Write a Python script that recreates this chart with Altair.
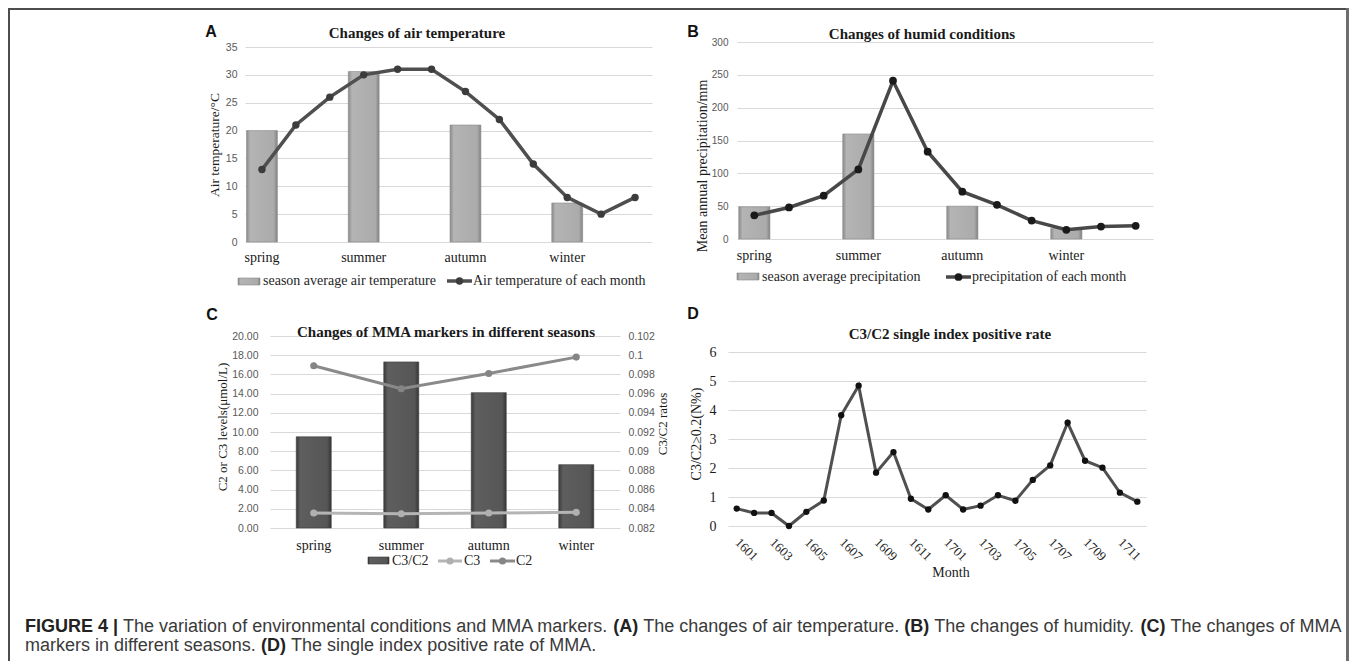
import altair as alt
import pandas as pd

# ---------------- data ----------------
months12 = [str(i) for i in range(1, 13)]
seasons = ["spring", "summer", "autumn", "winter"]
season_slot = ["1", "4", "7", "10"]

temp_season = [20.0, 30.6, 21.0, 7.0]
temp_month = [13, 21, 26, 30, 31, 31, 27, 22, 14, 8, 5, 8]

precip_season = [49, 160, 50, 16]
precip_month = [36, 48, 66, 106, 241, 133, 72, 52, 28, 14, 19, 20]

ratio_c3c2 = [0.0915, 0.0993, 0.0961, 0.0886]
level_c3 = [1.56, 1.49, 1.56, 1.63]
level_c2 = [16.9, 14.5, 16.1, 17.8]

months_d = ["1601", "1602", "1603", "1604", "1605", "1606", "1607", "1608",
            "1609", "1610", "1611", "1612", "1701", "1702", "1703", "1704",
            "1705", "1706", "1707", "1708", "1709", "1710", "1711", "1712"]
rate_d = [0.60, 0.45, 0.45, 0.0, 0.49, 0.88, 3.82, 4.84, 1.84, 2.55, 0.94, 0.57,
          1.06, 0.57, 0.70, 1.06, 0.87, 1.59, 2.09, 3.56, 2.25, 2.01, 1.15, 0.84]

yticks_a = [0, 5, 10, 15, 20, 25, 30, 35]
yticks_b = [0, 50, 100, 150, 200, 250, 300]
yticks_c_left = [0, 2, 4, 6, 8, 10, 12, 14, 16, 18, 20]
yticks_c_right = [0.082, 0.084, 0.086, 0.088, 0.09, 0.092, 0.094, 0.096, 0.098, 0.1, 0.102]
yticks_d = [0, 1, 2, 3, 4, 5, 6]
xticks_d = months_d[::2]

# ---------------- layout / style ----------------
W, H = 1341, 653
SERIF = "Liberation Serif"
SANS = "Liberation Sans"
GRID = "#d9d9d9"

dummy = pd.DataFrame({"k": [0]})

grad_light = {"gradient": "linear", "x1": 0, "x2": 1, "y1": 0, "y2": 0,
              "stops": [{"offset": 0, "color": "#8a8a8a"},
                        {"offset": 0.12, "color": "#b4b4b4"},
                        {"offset": 0.88, "color": "#ababab"},
                        {"offset": 1, "color": "#828282"}]}
grad_dark = {"gradient": "linear", "x1": 0, "x2": 1, "y1": 0, "y2": 0,
             "stops": [{"offset": 0, "color": "#3a3a3a"},
                       {"offset": 0.12, "color": "#5e5e5e"},
                       {"offset": 0.88, "color": "#565656"},
                       {"offset": 1, "color": "#363636"}]}


def season_expr():
    parts = []
    for s, lab in zip(season_slot, seasons):
        parts.append(f"datum.value == '{s}' ? '{lab}'")
    return " : ".join(parts) + " : ''"


def x_months(x0, x1, ybottom, pad_inner, pad_outer, label_pad):
    return alt.X("slot:N",
                 scale=alt.Scale(domain=months12, range=[x0, x1],
                                 paddingInner=pad_inner, paddingOuter=pad_outer),
                 axis=alt.Axis(orient="bottom", offset=ybottom - H, values=season_slot,
                               labelExpr=season_expr(), labelAngle=0, domain=False,
                               ticks=False, grid=False, labelPadding=label_pad,
                               labelFont=SERIF, labelFontSize=14, labelColor="#1a1a1a",
                               title=None))


def y_lin(field, dom, ybottom, ytop, xleft, values, label_pad, fmt=None,
          font=SANS, size=10.5, color="#595959"):
    ax = dict(orient="left", offset=-xleft, values=values, grid=True, gridColor=GRID,
              gridWidth=1, domain=False, ticks=False, labelPadding=label_pad,
              labelFont=font, labelFontSize=size, labelColor=color, title=None)
    if fmt:
        ax["format"] = fmt
    return alt.Y(f"{field}:Q", scale=alt.Scale(domain=dom, range=[ybottom, ytop], nice=False),
                 axis=alt.Axis(**ax))


def txt(s, x, y, size=14, font=SERIF, weight="normal", color="#1a1a1a",
        angle=0, align="center", baseline="middle"):
    return alt.Chart(dummy).mark_text(text=s, fontSize=size, font=font, fontWeight=weight,
                                      color=color, angle=angle, align=align,
                                      baseline=baseline).encode(x=alt.value(x), y=alt.value(y))


def hrule(x0, x1, y, color, width):
    return alt.Chart(dummy).mark_rule(color=color, strokeWidth=width).encode(
        x=alt.value(x0), x2=alt.value(x1), y=alt.value(y))


def vrule(x, y0, y1, color, width):
    return alt.Chart(dummy).mark_rule(color=color, strokeWidth=width).encode(
        x=alt.value(x), y=alt.value(y0), y2=alt.value(y1))


def swatch_rect(x0, x1, y0, y1, fill, stroke):
    return alt.Chart(dummy).mark_rect(fill=fill, stroke=stroke, strokeWidth=0.6).encode(
        x=alt.value(x0), x2=alt.value(x1), y=alt.value(y0), y2=alt.value(y1))


def swatch_dot(x, y, color, size):
    return alt.Chart(dummy).mark_circle(color=color, size=size, opacity=1).encode(
        x=alt.value(x), y=alt.value(y))


# ---------------- panel A ----------------
dfa_bar = pd.DataFrame({"slot": season_slot, "v": temp_season})
dfa_line = pd.DataFrame({"slot": months12, "v": temp_month})
xa = x_months(237, 644, 234, 0.09, 0.045, 8)
ya = y_lin("v", [0, 35], 234, 39, 237, yticks_a, 8)
panel_a = alt.layer(
    alt.Chart(dfa_bar).mark_bar(fill=grad_light, stroke="#8c8c8c", strokeWidth=0.6).encode(x=xa, y=ya),
    alt.Chart(dfa_line).mark_line(color="#4f4f4f", strokeWidth=3.5).encode(x=xa, y=ya),
    alt.Chart(dfa_line).mark_circle(color="#3c3c3c", size=55, opacity=1).encode(x=xa, y=ya),
)

# ---------------- panel B ----------------
dfb_bar = pd.DataFrame({"slot": season_slot, "v": precip_season})
dfb_line = pd.DataFrame({"slot": months12, "v": precip_month})
xb = x_months(729, 1145, 231, 0.1, 0.05, 9)
yb = y_lin("v", [0, 300], 231, 34, 729, yticks_b, 9, size=10)
panel_b = alt.layer(
    alt.Chart(dfb_bar).mark_bar(fill=grad_light, stroke="#8c8c8c", strokeWidth=0.6).encode(x=xb, y=yb),
    alt.Chart(dfb_line).mark_line(color="#484848", strokeWidth=3.5).encode(x=xb, y=yb),
    alt.Chart(dfb_line).mark_circle(color="#1a1a1a", size=60, opacity=1).encode(x=xb, y=yb),
)

# ---------------- panel C ----------------
dfc = pd.DataFrame({"season": seasons, "ratio": ratio_c3c2, "c3": level_c3, "c2": level_c2})
xc = alt.X("season:N",
           scale=alt.Scale(domain=seasons, range=[262, 612], paddingInner=0.6, paddingOuter=0.3),
           axis=alt.Axis(orient="bottom", offset=520 - H, labelAngle=0, domain=False, ticks=False,
                         grid=False, labelPadding=10, labelFont=SERIF, labelFontSize=14,
                         labelColor="#1a1a1a", title=None))
yc_right = alt.Y("ratio:Q",
                 scale=alt.Scale(domain=[0.082, 0.102], range=[520, 328], nice=False, zero=False),
                 axis=alt.Axis(orient="right", offset=612 - W, values=yticks_c_right, format=".3~f",
                               grid=False, domain=False, ticks=False, labelPadding=8,
                               labelFont=SANS, labelFontSize=10.5, labelColor="#595959", title=None))
bars_c = alt.Chart(dfc).mark_bar(fill=grad_dark, stroke="#3a3a3a", strokeWidth=0.6).encode(
    x=xc, y=yc_right, y2=alt.datum(0.082))
lines_c = alt.layer(
    alt.Chart(dfc).mark_line(color="#b5b5b5", strokeWidth=3).encode(
        x=xc, y=y_lin("c3", [0, 20], 520, 328, 262, yticks_c_left, 12, fmt=".2f")),
    alt.Chart(dfc).mark_circle(color="#b0b0b0", size=50, opacity=1).encode(
        x=xc, y=y_lin("c3", [0, 20], 520, 328, 262, yticks_c_left, 12, fmt=".2f")),
    alt.Chart(dfc).mark_line(color="#8a8a8a", strokeWidth=3).encode(
        x=xc, y=y_lin("c2", [0, 20], 520, 328, 262, yticks_c_left, 12, fmt=".2f")),
    alt.Chart(dfc).mark_circle(color="#858585", size=50, opacity=1).encode(
        x=xc, y=y_lin("c2", [0, 20], 520, 328, 262, yticks_c_left, 12, fmt=".2f")),
)
panel_c = alt.layer(bars_c, lines_c).resolve_scale(y="independent")

# ---------------- panel D ----------------
dfd = pd.DataFrame({"month": months_d, "rate": rate_d})
xd = alt.X("month:N",
           scale=alt.Scale(type="point", domain=months_d, range=[720, 1138], padding=0.5),
           axis=alt.Axis(orient="bottom", offset=518 - H, values=xticks_d, labelAngle=45,
                         labelAlign="left", labelBaseline="middle", labelOverlap=False,
                         domain=False, ticks=False, grid=False, labelPadding=14,
                         labelFont=SERIF, labelFontSize=13, labelColor="#262626", title=None))
yd = y_lin("rate", [0, 6], 518, 344, 720, yticks_d, 12, font=SERIF, size=14, color="#1a1a1a")
panel_d = alt.layer(
    alt.Chart(dfd).mark_line(color="#505050", strokeWidth=3).encode(x=xd, y=yd),
    alt.Chart(dfd).mark_circle(color="#111111", size=40, opacity=1).encode(x=xd, y=yd),
)

# ---------------- annotations ----------------
texts = [
    # panel letters
    txt("A", 203, 24, 16, SANS, "bold", "#111"),
    txt("B", 685, 24, 16, SANS, "bold", "#111"),
    txt("C", 204, 307, 16, SANS, "bold", "#111"),
    txt("D", 685, 306, 16, SANS, "bold", "#111"),
    # titles
    txt("Changes of air temperature", 409, 25, 15, SERIF, "bold"),
    txt("Changes of humid conditions", 914, 26, 15, SERIF, "bold"),
    txt("Changes of MMA markers in different seasons", 438, 324, 15, SERIF, "bold"),
    txt("C3/C2 single index positive rate", 942, 326, 15, SERIF, "bold"),
    # axis titles
    txt("Air temperature/\u00b0C", 207, 137, 13.5, angle=270),
    txt("Mean annual precipitation/mm", 695, 158, 14, angle=270),
    txt("C2 or C3 levels(\u03bcmol/L)", 215, 419, 13, angle=270),
    txt("C3/C2 ratos", 655, 416, 13, angle=270),
    txt("C3/C2\u22650.2(N%)", 689, 426, 14, angle=270),
    txt("Month", 943, 565, 14),
]

legends = [
    # A
    swatch_rect(230, 252, 270, 277, grad_light, "#8c8c8c"),
    txt("season average air temperature", 255, 273, 14, align="left", color="#262626"),
    hrule(439, 464, 273, "#4f4f4f", 3.5),
    swatch_dot(451.5, 273, "#3c3c3c", 55),
    txt("Air temperature of each month", 465, 273, 14, align="left", color="#262626"),
    # B
    swatch_rect(729, 751, 265, 272, grad_light, "#8c8c8c"),
    txt("season average precipitation", 754, 269, 14, align="left", color="#262626"),
    hrule(938, 963, 269, "#484848", 3.5),
    swatch_dot(950.5, 269, "#1a1a1a", 60),
    txt("precipitation of each month", 964, 269, 14, align="left", color="#262626"),
    # C
    swatch_rect(360, 381, 549, 556, grad_dark, "#3a3a3a"),
    txt("C3/C2", 384, 553, 14, align="left", color="#262626"),
    hrule(430, 454, 553, "#b5b5b5", 3),
    swatch_dot(442, 553, "#b0b0b0", 50),
    txt("C3", 456, 553, 14, align="left", color="#262626"),
    hrule(482, 507, 553, "#8a8a8a", 3),
    swatch_dot(494.5, 553, "#858585", 50),
    txt("C2", 508, 553, 14, align="left", color="#262626"),
]

# ---------------- caption (Arial metrics for sequential placement) ----------------
REG = {" ": 278, "(": 333, ")": 333, ".": 278, "|": 260, "4": 556,
       "A": 667, "B": 667, "C": 722, "D": 722, "E": 667, "F": 611, "G": 778, "I": 278,
       "M": 833, "R": 722, "T": 611, "U": 722,
       "a": 556, "b": 556, "c": 500, "d": 556, "e": 556, "f": 278, "g": 556, "h": 556,
       "i": 222, "k": 500, "l": 222, "m": 833, "n": 556, "o": 556, "p": 556, "q": 556,
       "r": 333, "s": 500, "t": 278, "u": 556, "v": 500, "w": 722, "x": 500, "y": 500}
BOLD = dict(REG)
BOLD.update({"A": 722, "B": 722, "|": 280})
CAP = 18
SPACE = 278 * CAP / 1000.0


def width(s, bold):
    tab = BOLD if bold else REG
    return sum(tab.get(ch, 556) for ch in s) * CAP / 1000.0


caption_lines = [
    [("FIGURE 4 |", True), ("The variation of environmental conditions and MMA markers.", False),
     ("(A)", True), ("The changes of air temperature.", False), ("(B)", True),
     ("The changes of humidity.", False), ("(C)", True), ("The changes of MMA", False)],
    [("markers in different seasons.", False), ("(D)", True),
     ("The single index positive rate of MMA.", False)],
]
caption_base = [623.5, 643]
caption = []
for line, ybase in zip(caption_lines, caption_base):
    x = 17.0
    for seg, bold in line:
        caption.append(txt(seg, x, ybase, CAP, SANS, "bold" if bold else "normal",
                           "#222222" if bold else "#3a3a3a", align="left",
                           baseline="alphabetic"))
        x += width(seg, bold) + SPACE

frame = [
    hrule(0, W, 1, "#4d4d4d", 2),
    vrule(1, 0, H, "#4d4d4d", 2),
    vrule(W - 1.5, 0, H, "#6e6e6e", 3),
]

chart = alt.layer(
    *frame, panel_a, panel_b, panel_c, panel_d, *texts, *legends, *caption
).resolve_scale(x="independent", y="independent").properties(
    width=W, height=H, autosize=alt.AutoSizeParams(type="none"), padding=0
).configure_view(strokeWidth=0)

chart.save("out.html", embed_options={"renderer": "svg", "actions": False})
